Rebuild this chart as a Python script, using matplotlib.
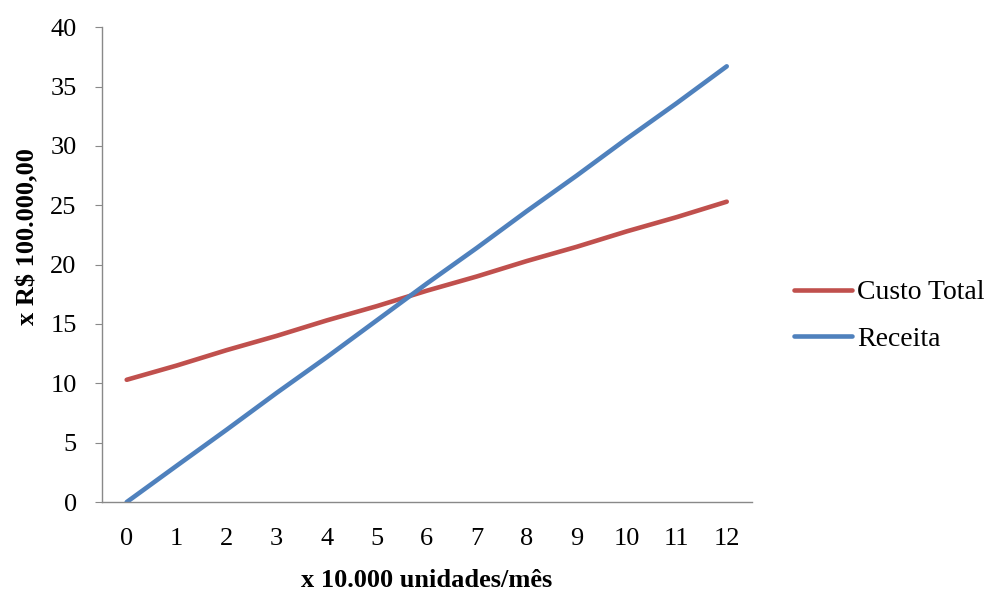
import matplotlib
matplotlib.use('Agg')
import matplotlib.pyplot as plt

# dados (x 10.000 unidades/mes, x R$ 100.000,00)
unidades = [0, 1, 2, 3, 4, 5, 6, 7, 8, 9, 10, 11, 12]
custo_total = [10.3, 11.5, 12.8, 14.0, 15.3, 16.5, 17.8, 19.0, 20.3, 21.5, 22.8, 24.0, 25.3]
receita = [0.0, 3.06, 6.1, 9.2, 12.2, 15.3, 18.4, 21.4, 24.5, 27.5, 30.6, 33.6, 36.7]

plt.rcParams['font.family'] = ['Liberation Serif', 'DejaVu Serif']

fig = plt.figure(figsize=(9.97, 5.90), dpi=100)
ax = fig.add_axes([0.102, 0.149, 0.652, 0.805])

ax.plot(unidades, custo_total, color='#C0504D', linewidth=3.3, label='Custo Total',
        solid_capstyle='round')
ax.plot(unidades, receita, color='#4F81BD', linewidth=3.3, label='Receita',
        solid_capstyle='round')

ax.set_xlim(-0.5, 12.5)
ax.set_ylim(0, 40)
ax.set_xticks(unidades)
ax.set_yticks(range(0, 41, 5))

for lado in ['top', 'right']:
    ax.spines[lado].set_visible(False)
for lado in ['left', 'bottom']:
    ax.spines[lado].set_color('#898989')
    ax.spines[lado].set_linewidth(1)

ax.tick_params(axis='y', length=5, color='#898989', labelsize=19, pad=13)
ax.tick_params(axis='x', length=0, labelsize=19, pad=19)

ax.set_xlabel('x 10.000 unidades/mês', fontsize=19, fontweight='bold')
ax.set_ylabel('x R$ 100.000,00', fontsize=19, fontweight='bold')
ax.xaxis.set_label_coords(0.5, -0.14)
ax.yaxis.set_label_coords(-0.096, 0.56)

fig.legend(loc='center left', bbox_to_anchor=(0.782, 0.465), frameon=False,
           fontsize=20, borderpad=0, handlelength=2.1, handletextpad=0.2,
           labelspacing=0.75)

fig.savefig('out.png', dpi=100)
